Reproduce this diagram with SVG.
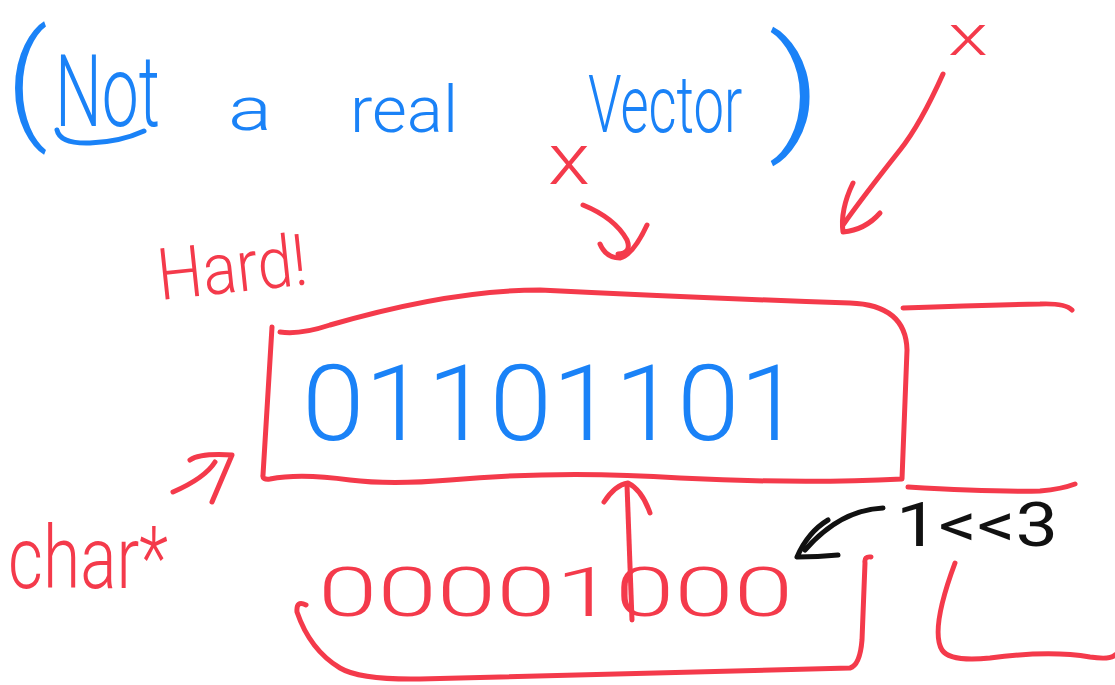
<svg xmlns="http://www.w3.org/2000/svg" width="1115" height="685" viewBox="0 0 1115 685">
  <style>
    .ink{fill:none;stroke-width:5;stroke-linecap:round;stroke-linejoin:round}
    .red{stroke:#f43a4b}
    .blue{stroke:#1a82f7}
    .blk{stroke:#111}
    text{font-family:Roboto,Inter,"Liberation Sans",Arial,sans-serif;font-weight:300}
    .tb{fill:#1a82f7}
    .tr{fill:#f43a4b}
    .tk{fill:#111;font-weight:400}
  </style>
  <rect width="1115" height="685" fill="#fff"/>

  <!-- title note -->
  <g id="title">
    <text class="tb" x="6" y="125" font-size="130" textLength="42" lengthAdjust="spacingAndGlyphs">(</text>
    <text class="tb" x="55" y="126" font-size="100" textLength="105" lengthAdjust="spacingAndGlyphs">Not</text>
    <path class="ink blue" d="M57,130 Q60,144 90,143 Q120,142 144,131"/>
    <text class="tb" x="228" y="130" font-size="62" textLength="44" lengthAdjust="spacingAndGlyphs">a</text>
    <text class="tb" x="350" y="132" font-size="64" textLength="108" lengthAdjust="spacingAndGlyphs">real</text>
    <text class="tb" transform="translate(588 132) scale(0.68 1)" font-size="80">Vector</text>
    <text class="tb" x="768" y="135" font-size="135" textLength="54" lengthAdjust="spacingAndGlyphs">)</text>
  </g>

  <!-- cross marks -->
  <g id="mark-left">
    <text class="tr" x="548" y="184" font-size="72" textLength="42" lengthAdjust="spacingAndGlyphs">x</text>
  </g>
  <g id="mark-right">
    <text class="tr" x="948" y="55" font-size="58" textLength="40" lengthAdjust="spacingAndGlyphs">x</text>
  </g>

  <!-- side labels -->
  <g id="hard">
    <text class="tr" x="160" y="300" font-size="72" textLength="150" lengthAdjust="spacingAndGlyphs" transform="rotate(-6 160 300)">Hard!</text>
  </g>
  <g id="char-ptr">
    <text class="tr" x="8" y="588" font-size="88" textLength="160" lengthAdjust="spacingAndGlyphs">char*</text>
  </g>

  <!-- the byte in memory -->
  <g id="byte">
    <path class="ink red" d="M272,327 L263,475 Q262,480 270,479 Q300,473 350,480 Q390,485 450,480 Q560,470 680,478 Q800,484 902,479 L907,350 Q906,305 850,303 Q700,298 540,290 Q450,290 330,325 Q300,335 280,332"/>
    <text class="tb" x="302" y="440" font-size="105" textLength="500" lengthAdjust="spacingAndGlyphs">01101101</text>
  </g>

  <!-- neighbouring memory -->
  <g id="next-cell">
    <path class="ink red" d="M903,308 Q980,305 1040,304 Q1065,303 1072,310"/>
    <path class="ink red" d="M908,487 Q990,492 1040,491 Q1062,489 1075,484"/>
    <path class="ink red" d="M955,563 Q930,630 942,650 Q950,662 990,658 Q1050,650 1090,657 Q1110,660 1115,655"/>
  </g>

  <!-- bit mask -->
  <g id="mask">
    <text class="tr" x="318" y="616" font-size="68" textLength="475" lengthAdjust="spacingAndGlyphs">00001000</text>
    <path class="ink red" d="M306,605 Q296,600 297,612 Q310,650 340,668 Q360,680 420,679 Q600,674 850,668 Q860,665 862,640 L865,563 Q864,556 871,557"/>
  </g>

  <g id="shift">
    <text class="tk" x="896" y="546" font-size="62" textLength="162" lengthAdjust="spacingAndGlyphs">1&lt;&lt;3</text>
  </g>

  <!-- arrows -->
  <g id="connectors">
    <path class="ink red" d="M632,620 L627,485"/>
    <path class="ink red" d="M604,502 Q615,485 628,483 Q642,490 650,513"/>
    <path class="ink red" d="M583,205 Q615,218 627,240 Q632,253 618,254"/>
    <path class="ink red" d="M600,244 Q606,258 620,258 Q633,255 647,225"/>
    <path class="ink red" d="M943,74 Q920,125 900,150 Q862,198 843,225"/>
    <path class="ink red" d="M853,183 Q840,210 843,232 Q865,230 880,213"/>
    <path class="ink red" d="M173,492 Q205,478 215,462"/>
    <path class="ink red" d="M190,460 Q200,453 232,455 L212,502"/>
    <path class="ink blk" d="M883,508 Q840,510 805,550"/>
    <path class="ink blk" d="M828,520 Q808,532 797,557 Q818,557 838,555"/>
  </g>
</svg>
